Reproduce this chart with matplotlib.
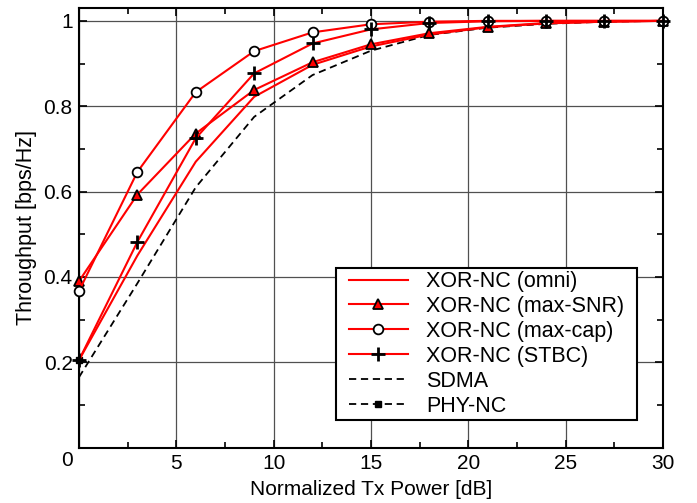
import matplotlib
matplotlib.use("Agg")
import matplotlib.pyplot as plt
from matplotlib.ticker import MultipleLocator
from matplotlib.transforms import ScaledTranslation
from matplotlib.path import Path

plt.rcParams['font.family'] = ['Liberation Sans', 'DejaVu Sans']

snr = [0, 3, 6, 9, 12, 15, 18, 21, 24, 27, 30]
omni = [0.205, 0.45, 0.67, 0.822, 0.897, 0.940, 0.968, 0.985, 0.994, 0.998, 1.0]
max_snr = [0.39, 0.593, 0.736, 0.838, 0.903, 0.945, 0.971, 0.986, 0.995, 0.998, 1.0]
max_cap = [0.367, 0.646, 0.833, 0.929, 0.973, 0.992, 0.998, 1.0, 1.0, 1.0, 1.0]
stbc = [0.205, 0.482, 0.725, 0.877, 0.947, 0.980, 0.995, 0.999, 1.0, 1.0, 1.0]
sdma = [0.165, 0.385, 0.61, 0.775, 0.873, 0.930, 0.967, 0.984, 0.993, 0.998, 1.0]
phy_x = [0]
phy_nc = [0.205]
xticks = [0, 5, 10, 15, 20, 25, 30]
xticklabels = ['', '5', '10', '15', '20', '25', '30']
yticks = [0, 0.2, 0.4, 0.6, 0.8, 1.0]
yticklabels = ['0', '0.2', '0.4', '0.6', '0.8', '1']

DPI = 100
fig = plt.figure(figsize=(6.97, 5.03), dpi=DPI)
ax = fig.add_axes([0.1133, 0.110, 0.8377, 0.874])

red = '#ff0000'
ax.plot(snr, sdma, color='black', lw=1.3, dashes=(4, 2.6), label='SDMA', zorder=3)
ax.plot(phy_x, phy_nc, color='black', lw=1.3, dashes=(4, 2.6), marker='s', ms=5,
        label='PHY-NC', zorder=3, clip_on=False)
ax.plot(snr, omni, '-', color=red, lw=1.5, label='XOR-NC (omni)', zorder=4)
ax.plot(snr, max_snr, '-', color=red, lw=1.5, marker='^', ms=7.5, mfc=red,
        mec='black', mew=1.3, label='XOR-NC (max-SNR)', zorder=5, clip_on=False)
ax.plot(snr, max_cap, '-', color=red, lw=1.5, marker='o', ms=7, mfc='white',
        mec='black', mew=1.3, label='XOR-NC (max-cap)', zorder=5, clip_on=False)
ax.plot(snr, stbc, '-', color=red, lw=1.5, marker='+', ms=10, mec='black',
        mew=2.0, label='XOR-NC (STBC)', zorder=6, clip_on=False)

ax.set_xlim(0, 30)
ax.set_ylim(0, 1.03)
ax.set_xticks(xticks)
ax.set_xticklabels(xticklabels)
ax.xaxis.set_minor_locator(MultipleLocator(2.5))
ax.set_yticks(yticks)
ax.set_yticklabels(yticklabels)
ax.yaxis.set_minor_locator(MultipleLocator(0.1))
ax.tick_params(which='both', direction='in', top=True, right=True, labelsize=15)
ax.tick_params(which='major', length=6, width=1.2, pad=4.5)
ax.tick_params(which='minor', length=4, width=1.2)
ax.grid(True, which='major', color='#505050', lw=0.9)
for s in ax.spines.values():
    s.set_linewidth(1.5)

# bottom-left "0" sits a little lower in the reference
lab0 = ax.get_yticklabels()[0]
lab0.set_transform(lab0.get_transform() + ScaledTranslation(0, -8 / 72, fig.dpi_scale_trans))

ax.set_xlabel('Normalized Tx Power [dB]', fontsize=15, labelpad=5)
ax.set_ylabel('Throughput [bps/Hz]', fontsize=15.5, labelpad=5)

handles, labels = ax.get_legend_handles_labels()
order = ['XOR-NC (omni)', 'XOR-NC (max-SNR)', 'XOR-NC (max-cap)', 'XOR-NC (STBC)', 'SDMA', 'PHY-NC']
hmap = dict(zip(labels, handles))
leg = ax.legend([hmap[l] for l in order], order, loc='lower right',
                bbox_to_anchor=(0.940, 0.063), borderaxespad=0, fontsize=15.5,
                fancybox=False, framealpha=1, edgecolor='black',
                handlelength=2.75, labelspacing=0.18, borderpad=0.16,
                handletextpad=0.85)
leg.get_frame().set_linewidth(1.5)
leg.set_zorder(10)

PADX = 9 * DPI / 100.0


def wide_box(x0, y0, width, height, mutation_size):
    x0 -= PADX
    x1 = x0 + width + 2 * PADX
    y1 = y0 + height
    return Path([(x0, y0), (x1, y0), (x1, y1), (x0, y1), (x0, y0)],
                closed=True)


leg.get_frame().set_boxstyle(wide_box)

fig.savefig('out.png', dpi=DPI)
